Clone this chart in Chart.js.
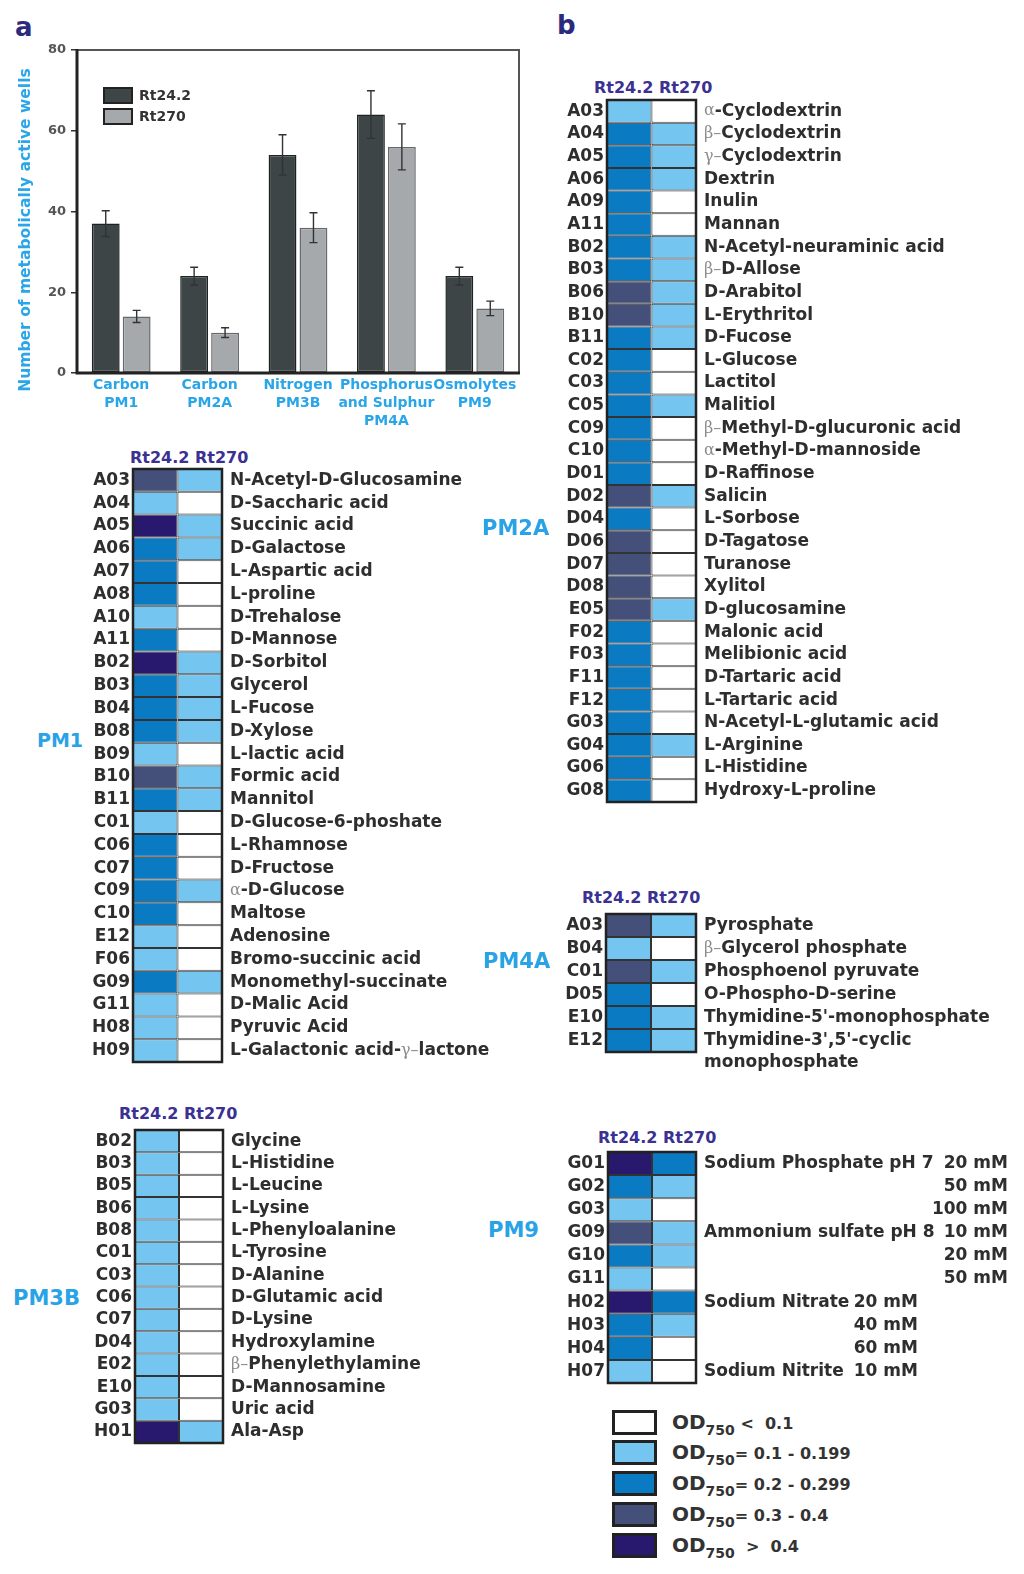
<!DOCTYPE html>
<html>
<head>
<meta charset="utf-8">
<script src="https://cdn.jsdelivr.net/npm/chart.js@4.4.1/dist/chart.umd.min.js"></script>
<style>
  body { margin: 0; background: #fff; }
  #page { position: relative; width: 1024px; height: 1574px; overflow: hidden; font-family: "DejaVu Sans", sans-serif; }
  .box { position: absolute; }
  .letter { position: absolute; font-size: 26px; line-height: 30px; font-weight: bold; color: #2b2a7c; }
  .hdr { position: absolute; font-size: 16px; line-height: 20px; font-weight: bold; color: #3b3192; white-space: pre; }
  .pm { position: absolute; font-size: 21px; line-height: 24px; font-weight: bold; color: #29a3e6; }
  .key { position: absolute; left: 612px; width: 45px; height: 25px; box-sizing: border-box; border: 3px solid #222; }
  .keytxt { position: absolute; left: 672px; height: 25px; line-height: 25px; font-weight: bold; color: #333; white-space: pre; font-size: 16px; }
  .keytxt b { font-size: 20px; }
  .keytxt sub { font-size: 14px; vertical-align: -6px; }
</style>
</head>
<body>
<div id="page">
  <div class="letter" style="left:15px;top:12px">a</div>
  <div class="letter" style="left:557px;top:10px">b</div>

  <div class="box" style="left:0;top:40px;width:530px;height:393px"><canvas id="bars"></canvas></div>

  <div class="hdr" style="left:130px;top:448px">Rt24.2 Rt270</div>
  <div class="pm" style="left:37px;top:728px;font-size:19px">PM1</div>
  <div class="box" style="left:88px;top:467px;width:424px;height:597px"><canvas id="pm1"></canvas></div>

  <div class="hdr" style="left:119px;top:1104px">Rt24.2 Rt270</div>
  <div class="pm" style="left:13px;top:1286px">PM3B</div>
  <div class="box" style="left:90px;top:1128px;width:353px;height:317px"><canvas id="pm3b"></canvas></div>

  <div class="hdr" style="left:594px;top:78px">Rt24.2 Rt270</div>
  <div class="pm" style="left:482px;top:516px">PM2A</div>
  <div class="box" style="left:562px;top:98px;width:434px;height:706px"><canvas id="pm2a"></canvas></div>

  <div class="hdr" style="left:582px;top:888px">Rt24.2 Rt270</div>
  <div class="pm" style="left:483px;top:949px">PM4A</div>
  <div class="box" style="left:561px;top:912px;width:435px;height:166px"><canvas id="pm4a"></canvas></div>

  <div class="hdr" style="left:598px;top:1128px">Rt24.2 Rt270</div>
  <div class="pm" style="left:488px;top:1218px">PM9</div>
  <div class="box" style="left:563px;top:1150px;width:453px;height:235px"><canvas id="pm9"></canvas></div>

  <div id="odKey"></div>
</div>

<script>
// ---- panel a data
const groups = [['Carbon', 'PM1'], ['Carbon', 'PM2A'], ['Nitrogen', 'PM3B'], ['Phosphorus', 'and Sulphur', 'PM4A'], ['Osmolytes', 'PM9']];
const activeRt242 = [37, 24, 54, 64, 24];
const errRt242 = [3.2, 2.2, 5, 5.9, 2.2];
const activeRt270 = [14, 10, 36, 56, 16];
const errRt270 = [1.5, 1.2, 3.7, 5.7, 1.8];
const yTickValues = [0, 20, 40, 60, 80];

// ---- OD classes: 0 <0.1, 1 0.1-0.199, 2 0.2-0.299, 3 0.3-0.4, 4 >0.4
const odColors = ['#ffffff', '#74c5ef', '#0a7bc3', '#45507a', '#28186e'];
const odLabels = [' <  0.1', '= 0.1 - 0.199', '= 0.2 - 0.299', '= 0.3 - 0.4', '  >  0.4'];

// ---- PM1
const pm1Wells = ['A03','A04','A05','A06','A07','A08','A10','A11','B02','B03','B04','B08','B09','B10','B11','C01','C06','C07','C09','C10','E12','F06','G09','G11','H08','H09'];
const pm1Names = ['N-Acetyl-D-Glucosamine','D-Saccharic acid','Succinic acid','D-Galactose','L-Aspartic acid','L-proline','D-Trehalose','D-Mannose','D-Sorbitol','Glycerol','L-Fucose','D-Xylose','L-lactic acid','Formic acid','Mannitol','D-Glucose-6-phoshate','L-Rhamnose','D-Fructose','α-D-Glucose','Maltose','Adenosine','Bromo-succinic acid','Monomethyl-succinate','D-Malic Acid','Pyruvic Acid','L-Galactonic acid-γ–lactone'];
const pm1Rt242 = [3,1,4,2,2,2,1,2,4,2,2,2,1,3,2,1,2,2,2,2,1,1,2,1,1,1];
const pm1Rt270 = [1,0,1,1,0,0,0,0,1,1,1,1,0,1,1,0,0,0,1,0,0,0,1,0,0,0];

// ---- PM2A
const pm2Wells = ['A03','A04','A05','A06','A09','A11','B02','B03','B06','B10','B11','C02','C03','C05','C09','C10','D01','D02','D04','D06','D07','D08','E05','F02','F03','F11','F12','G03','G04','G06','G08'];
const pm2Names = ['α-Cyclodextrin','β–Cyclodextrin','γ–Cyclodextrin','Dextrin','Inulin','Mannan','N-Acetyl-neuraminic acid','β–D-Allose','D-Arabitol','L-Erythritol','D-Fucose','L-Glucose','Lactitol','Malitiol','β–Methyl-D-glucuronic acid','α-Methyl-D-mannoside','D-Raffinose','Salicin','L-Sorbose','D-Tagatose','Turanose','Xylitol','D-glucosamine','Malonic acid','Melibionic acid','D-Tartaric acid','L-Tartaric acid','N-Acetyl-L-glutamic acid','L-Arginine','L-Histidine','Hydroxy-L-proline'];
const pm2Rt242 = [1,2,2,2,2,2,2,2,3,3,2,2,2,2,2,2,2,3,2,3,3,3,3,2,2,2,2,2,2,2,2];
const pm2Rt270 = [0,1,1,1,0,0,1,1,1,1,1,0,0,1,0,0,0,1,0,0,0,0,1,0,0,0,0,0,1,0,0];

// ---- PM3B
const pm3Wells = ['B02','B03','B05','B06','B08','C01','C03','C06','C07','D04','E02','E10','G03','H01'];
const pm3Names = ['Glycine','L-Histidine','L-Leucine','L-Lysine','L-Phenyloalanine','L-Tyrosine','D-Alanine','D-Glutamic acid','D-Lysine','Hydroxylamine','β–Phenylethylamine','D-Mannosamine','Uric acid','Ala-Asp'];
const pm3Rt242 = [1,1,1,1,1,1,1,1,1,1,1,1,1,4];
const pm3Rt270 = [0,0,0,0,0,0,0,0,0,0,0,0,0,1];

// ---- PM4A
const pm4Wells = ['A03','B04','C01','D05','E10','E12'];
const pm4Names = ['Pyrosphate','β–Glycerol phosphate','Phosphoenol pyruvate','O-Phospho-D-serine',"Thymidine-5'-monophosphate",["Thymidine-3',5'-cyclic",'monophosphate']];
const pm4Rt242 = [3,1,3,2,2,2];
const pm4Rt270 = [1,0,1,0,1,1];

// ---- PM9
const pm9Wells = ['G01','G02','G03','G09','G10','G11','H02','H03','H04','H07'];
const pm9Names = ['Sodium Phosphate pH 7','','','Ammonium sulfate pH 8','','','Sodium Nitrate','','','Sodium Nitrite'];
const pm9Conc = ['20 mM','50 mM','100 mM','10 mM','20 mM','50 mM','20 mM','40 mM','60 mM','10 mM'];
const pm9Rt242 = [4,2,1,3,2,1,4,2,2,1];
const pm9Rt270 = [2,1,0,1,1,0,2,1,0,0];

Chart.defaults.font.family = 'DejaVu Sans';
Chart.defaults.animation = false;

// Bar chart plugins
const barExtras = {
  id: 'barExtras',
  afterDatasetsDraw(chart) {
    const ctx = chart.ctx;
    const a = chart.chartArea;
    const y = chart.scales.y;
    ctx.save();
    // error bars
    chart.data.datasets.forEach((ds, di) => {
      chart.getDatasetMeta(di).data.forEach((bar, i) => {
        const v = ds.data[i], e = ds.errors[i];
        const top = y.getPixelForValue(v + e), bot = y.getPixelForValue(v - e);
        ctx.strokeStyle = '#333';
        ctx.lineWidth = 1.4;
        ctx.beginPath();
        ctx.moveTo(bar.x, top); ctx.lineTo(bar.x, bot);
        ctx.moveTo(bar.x - 4, top); ctx.lineTo(bar.x + 4, top);
        ctx.moveTo(bar.x - 4, bot); ctx.lineTo(bar.x + 4, bot);
        ctx.stroke();
      });
    });
    // frame
    ctx.strokeStyle = '#555';
    ctx.lineWidth = 2;
    ctx.beginPath();
    ctx.moveTo(a.left, a.top); ctx.lineTo(a.right, a.top); ctx.lineTo(a.right, a.bottom);
    ctx.stroke();
    ctx.strokeStyle = '#222';
    ctx.lineWidth = 3;
    ctx.beginPath();
    ctx.moveTo(a.left, a.top - 1); ctx.lineTo(a.left, a.bottom); ctx.lineTo(a.right + 1, a.bottom);
    ctx.stroke();
    // legend
    chart.data.datasets.forEach((ds, di) => {
      const bx = a.left + 27, by = a.top + 38 + di * 21;
      ctx.fillStyle = ds.backgroundColor;
      ctx.fillRect(bx, by, 28, 15);
      ctx.strokeStyle = '#222';
      ctx.lineWidth = 2;
      ctx.strokeRect(bx, by, 28, 15);
      ctx.fillStyle = '#333';
      ctx.font = 'bold 14px "DejaVu Sans"';
      ctx.textBaseline = 'middle';
      ctx.fillText(ds.label, bx + 35, by + 8);
    });
    // y title
    ctx.translate(a.left - 51, a.bottom - 143);
    ctx.rotate(-Math.PI / 2);
    ctx.textAlign = 'center';
    ctx.textBaseline = 'middle';
    ctx.fillStyle = '#2aa6e8';
    ctx.font = 'bold 15.5px "DejaVu Sans"';
    ctx.fillText('Number of metabolically active wells', 0, 0);
    ctx.restore();
  }
};

new Chart(document.getElementById('bars'), {
  type: 'bar',
  data: {
    labels: groups,
    datasets: [
      { label: 'Rt24.2', data: activeRt242, errors: errRt242, backgroundColor: '#3d4547', borderColor: '#1e2223', borderWidth: 1.5 },
      { label: 'Rt270', data: activeRt270, errors: errRt270, backgroundColor: '#a6a9ac', borderColor: '#66696b', borderWidth: 1.5 }
    ]
  },
  options: {
    responsive: true,
    maintainAspectRatio: false,
    layout: { padding: { top: 10, right: 11, left: 0, bottom: 0 } },
    datasets: { bar: { categoryPercentage: 0.7, barPercentage: 0.9, borderSkipped: false } },
    plugins: { legend: { display: false }, tooltip: { enabled: false } },
    scales: {
      x: {
        grid: { display: false, drawTicks: false },
        border: { display: false },
        ticks: { color: '#2aa6e8', padding: 3, maxRotation: 0, minRotation: 0, autoSkip: false,
                 font: { size: 14, weight: 'bold', lineHeight: 1.3 } },
        afterFit: s => { s.height = 60; }
      },
      y: {
        min: 0, max: 80,
        afterBuildTicks: s => { s.ticks = yTickValues.map(v => ({ value: v })); },
        grid: { drawOnChartArea: false, drawTicks: true, tickLength: 6, color: '#333', lineWidth: 1.5 },
        border: { display: false },
        ticks: { color: '#555', padding: 5, font: { size: 13, weight: 'bold' } },
        afterFit: s => { s.width = 77; s.paddingTop = 0; s.paddingBottom = 0; }
      }
    }
  },
  plugins: [barExtras]
});

// Heatmaps
function drawRuns(ctx, text, x, y) {
  const parts = text.match(/[αβγ–]+|[^αβγ–]+/g) || [];
  parts.forEach(p => {
    const greek = /[αβγ–]/.test(p);
    ctx.font = greek ? '16px "DejaVu Serif"' : 'bold 17px "DejaVu Sans"';
    ctx.fillStyle = greek ? '#8c8c8c' : '#2e2e2e';
    ctx.fillText(p, x, y);
    x += ctx.measureText(p).width;
  });
}

function heatmapLabels(names, conc, concGroups) {
  return {
    id: 'heatmapLabels',
    afterDraw(chart) {
      const { ctx, chartArea, scales } = chart;
      ctx.save();
      ctx.strokeStyle = '#222';
      ctx.lineWidth = 2.5;
      ctx.strokeRect(chartArea.left, chartArea.top, chartArea.right - chartArea.left, chartArea.bottom - chartArea.top);
      ctx.textBaseline = 'middle';
      ctx.textAlign = 'left';
      names.forEach((name, i) => {
        const yy = scales.y.getPixelForValue(i);
        (Array.isArray(name) ? name : [name]).forEach((line, k) => drawRuns(ctx, line, chartArea.right + 8, yy + k * 22));
      });
      if (conc) {
        ctx.textAlign = 'right';
        ctx.font = 'bold 17px "DejaVu Sans"';
        ctx.fillStyle = '#2e2e2e';
        concGroups.forEach(g => {
          for (let i = g.from; i <= g.to; i++) {
            ctx.fillText(conc[i], chartArea.right + g.right, scales.y.getPixelForValue(i));
          }
        });
      }
      ctx.restore();
    }
  };
}

function heatmap(id, wells, names, rt242, rt270, padRight, padBottom, conc, concGroups) {
  return new Chart(document.getElementById(id), {
    type: 'bar',
    data: {
      labels: wells,
      datasets: [
        { label: 'Rt24.2', data: wells.map(() => 1), backgroundColor: rt242.map(c => odColors[c]) },
        { label: 'Rt270', data: wells.map(() => 1), backgroundColor: rt270.map(c => odColors[c]) }
      ]
    },
    options: {
      indexAxis: 'y',
      responsive: true,
      maintainAspectRatio: false,
      layout: { padding: { top: 2, bottom: padBottom || 2, left: 0, right: padRight } },
      datasets: { bar: { barPercentage: 1, categoryPercentage: 1, borderWidth: 1, borderColor: '#333', borderSkipped: false, inflateAmount: 0 } },
      plugins: { legend: { display: false }, tooltip: { enabled: false } },
      scales: {
        x: { stacked: true, min: 0, max: 2, display: false },
        y: {
          stacked: true,
          grid: { display: false, drawTicks: false },
          border: { display: false },
          ticks: { autoSkip: false, padding: 3, color: '#2e2e2e', font: { size: 17, weight: 'bold' } },
          afterFit: s => { s.width = 45; s.paddingTop = 0; s.paddingBottom = 0; }
        }
      }
    },
    plugins: [heatmapLabels(names, conc, concGroups)]
  });
}

heatmap('pm1', pm1Wells, pm1Names, pm1Rt242, pm1Rt270, 290);
heatmap('pm2a', pm2Wells, pm2Names, pm2Rt242, pm2Rt270, 300);
heatmap('pm3b', pm3Wells, pm3Names, pm3Rt242, pm3Rt270, 220);
heatmap('pm4a', pm4Wells, pm4Names, pm4Rt242, pm4Rt270, 300, 26);
heatmap('pm9', pm9Wells, pm9Names, pm9Rt242, pm9Rt270, 320, 2, pm9Conc,
  [{ from: 0, to: 5, right: 312 }, { from: 6, to: 9, right: 222 }]);

// OD key
const keyTops = [1410, 1440, 1471, 1502, 1533];
const key = document.getElementById('odKey');
odLabels.forEach((t, i) => {
  const b = document.createElement('div');
  b.className = 'key';
  b.style.top = keyTops[i] + 'px';
  b.style.background = odColors[i];
  key.appendChild(b);
  const l = document.createElement('div');
  l.className = 'keytxt';
  l.style.top = keyTops[i] + 'px';
  l.innerHTML = '<b>OD</b><sub>750</sub>' + t.replace('<', '&lt;').replace('>', '&gt;');
  key.appendChild(l);
});
</script>
</body>
</html>
